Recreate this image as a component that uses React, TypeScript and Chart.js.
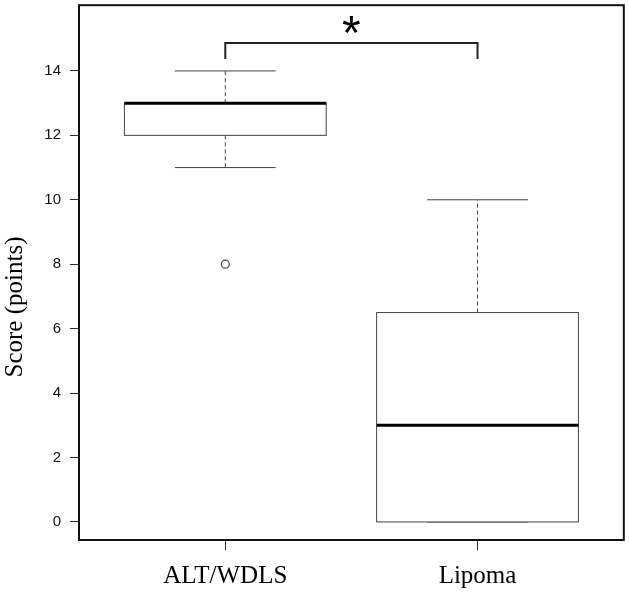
import React, { useEffect, useRef } from "react";
import { Chart, registerables } from "chart.js";

Chart.register(...registerables);

const categories = ["ALT/WDLS", "Lipoma"];
const whiskerLow = [11, 0];
const q1 = [12, 0];
const medians = [13, 3];
const q3 = [13, 6.5];
const whiskerHigh = [14, 10];
const outlierGroup = [1];
const outlierValue = [8];
const yTickValues = [0, 2, 4, 6, 8, 10, 12, 14];
const bracketTop = 14.87;
const bracketFoot = 14.37;
const starLevel = 15.45;
const yTitle = "Score (points)";

const boxPlugin = {
  id: "boxes",
  beforeDatasetsDraw(chart: any) {
    const { ctx, scales } = chart;
    const x = scales.x;
    const y = scales.y;
    ctx.save();
    for (let i = 0; i < categories.length; i++) {
      const c = i + 1;
      const xl = x.getPixelForValue(c - 0.4);
      const xr = x.getPixelForValue(c + 0.4);
      const xc = x.getPixelForValue(c);
      const cl = x.getPixelForValue(c - 0.2);
      const cr = x.getPixelForValue(c + 0.2);
      const yLo = y.getPixelForValue(whiskerLow[i]);
      const yQ1 = y.getPixelForValue(q1[i]);
      const yMed = y.getPixelForValue(medians[i]);
      const yQ3 = y.getPixelForValue(q3[i]);
      const yHi = y.getPixelForValue(whiskerHigh[i]);
      ctx.strokeStyle = "#444";
      ctx.lineWidth = 1;
      ctx.setLineDash([4, 3]);
      ctx.beginPath();
      ctx.moveTo(xc, yQ3);
      ctx.lineTo(xc, yHi);
      ctx.moveTo(xc, yQ1);
      ctx.lineTo(xc, yLo);
      ctx.stroke();
      ctx.setLineDash([]);
      ctx.beginPath();
      ctx.moveTo(cl, yHi);
      ctx.lineTo(cr, yHi);
      ctx.moveTo(cl, yLo);
      ctx.lineTo(cr, yLo);
      ctx.stroke();
      ctx.fillStyle = "#fff";
      ctx.fillRect(xl, yQ3, xr - xl, yQ1 - yQ3);
      ctx.strokeRect(xl, yQ3, xr - xl, yQ1 - yQ3);
      ctx.strokeStyle = "#000";
      ctx.lineWidth = 3;
      ctx.beginPath();
      ctx.moveTo(xl, yMed);
      ctx.lineTo(xr, yMed);
      ctx.stroke();
    }
    ctx.restore();
  },
  afterDraw(chart: any) {
    const { ctx, chartArea, scales } = chart;
    ctx.save();
    ctx.strokeStyle = "#111";
    ctx.lineWidth = 2;
    ctx.strokeRect(chartArea.left, chartArea.top, chartArea.right - chartArea.left, chartArea.bottom - chartArea.top);
    const sx = scales.x.getPixelForValue(1.5);
    const sy = scales.y.getPixelForValue(starLevel);
    ctx.fillStyle = "#000";
    ctx.textAlign = "center";
    ctx.textBaseline = "alphabetic";
    ctx.font = "40px 'Liberation Sans'";
    const m = ctx.measureText("*");
    const h = m.actualBoundingBoxAscent + m.actualBoundingBoxDescent;
    const size = Math.max(10, (40 * 18) / (h || 18));
    ctx.font = `${size}px 'Liberation Sans'`;
    const m2 = ctx.measureText("*");
    ctx.fillText("*", sx, sy + (m2.actualBoundingBoxAscent - m2.actualBoundingBoxDescent) / 2);
    ctx.translate(22, 307);
    ctx.rotate(-Math.PI / 2);
    ctx.font = "25px 'Liberation Serif'";
    ctx.textAlign = "center";
    ctx.textBaseline = "alphabetic";
    ctx.fillText(yTitle, 0, 0);
    ctx.restore();
  },
};

export default function App() {
  const ref = useRef<HTMLCanvasElement | null>(null);
  useEffect(() => {
    if (!ref.current) return;
    const chart = new Chart(ref.current, {
      type: "scatter",
      data: {
        datasets: [
          {
            label: "outliers",
            data: outlierGroup.map((g, i) => ({ x: g, y: outlierValue[i] })),
            pointRadius: 4,
            pointBorderWidth: 1.2,
            borderColor: "#444",
            backgroundColor: "#fff",
          },
          {
            label: "bracket",
            data: [
              { x: 1, y: bracketFoot },
              { x: 1, y: bracketTop },
              { x: 2, y: bracketTop },
              { x: 2, y: bracketFoot },
            ],
            showLine: true,
            borderWidth: 2,
            borderColor: "#222",
            pointRadius: 0,
            tension: 0,
          },
        ],
      },
      options: {
        responsive: false,
        animation: false,
        layout: { padding: { top: 4, right: 5, left: 0, bottom: 0 } },
        plugins: { legend: { display: false }, tooltip: { enabled: false } },
        scales: {
          x: {
            type: "linear",
            min: 0.42,
            max: 2.58,
            afterBuildTicks: (s: any) => {
              s.ticks = categories.map((_, i) => ({ value: i + 1 }));
            },
            afterFit: (s: any) => {
              s.height = 53;
              s.paddingLeft = 0;
              s.paddingRight = 0;
            },
            ticks: {
              callback: (v: any) => categories[Math.round(Number(v)) - 1] ?? "",
              color: "#000",
              font: { family: "'Liberation Serif'", size: 25 },
              padding: 11,
              maxRotation: 0,
            },
            grid: { drawOnChartArea: false, drawTicks: true, tickLength: 10, color: "#333", lineWidth: 1 },
            border: { display: false },
          },
          y: {
            type: "linear",
            min: -0.56,
            max: 16.04,
            afterBuildTicks: (s: any) => {
              s.ticks = yTickValues.map((v) => ({ value: v }));
            },
            afterFit: (s: any) => {
              s.width = 79;
              s.paddingTop = 0;
              s.paddingBottom = 0;
            },
            ticks: {
              callback: (v: any) => String(v),
              color: "#111",
              font: { family: "'Liberation Sans'", size: 15 },
              padding: 9,
            },
            grid: { drawOnChartArea: false, drawTicks: true, tickLength: 9, color: "#333", lineWidth: 1 },
            border: { display: false },
          },
        },
      },
      plugins: [boxPlugin],
    } as any);
    return () => chart.destroy();
  }, []);
  return (
    <div style={{ position: "fixed", left: 0, top: 0, width: 629, height: 593, background: "#fff" }}>
      <canvas ref={ref} width={629} height={593} style={{ display: "block" }} />
    </div>
  );
}
